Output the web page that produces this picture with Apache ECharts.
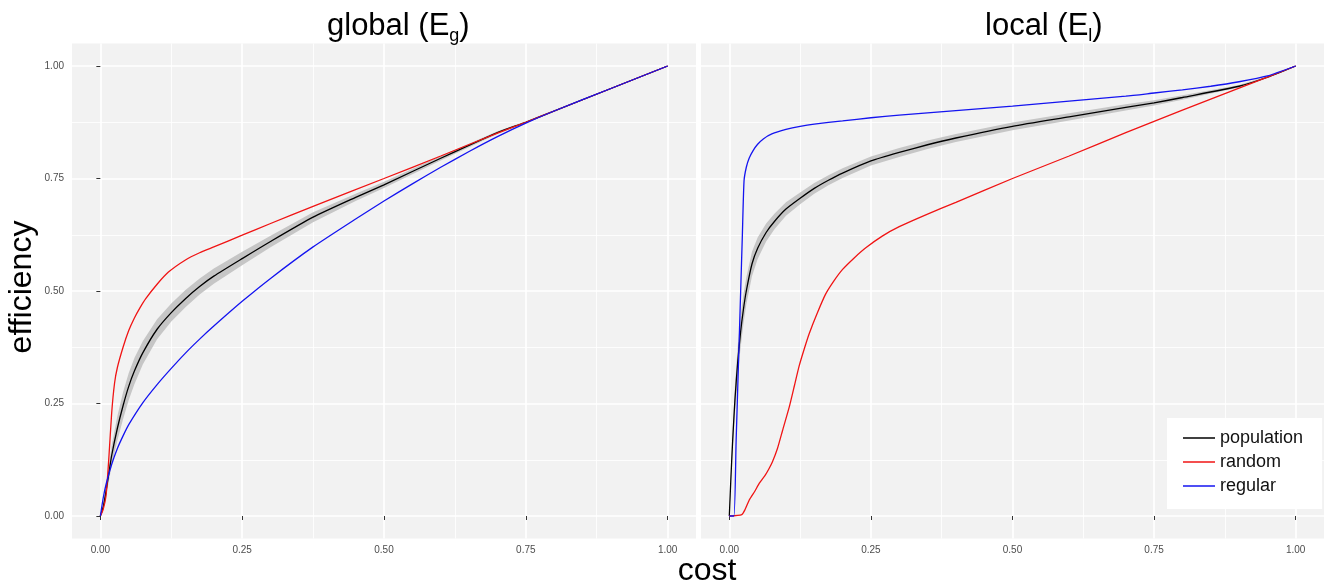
<!DOCTYPE html>
<html>
<head>
<meta charset="utf-8">
<title>efficiency vs cost</title>
<script src="https://cdn.jsdelivr.net/npm/echarts@6/dist/echarts.min.js"></script>
<style>
  html, body { margin: 0; padding: 0; background: #fff; }
  #chart { width: 1324px; height: 588px; }
</style>
</head>
<body>
<div id="chart"></div>
<script>
// ---- data ----
const tickValues = [0, 0.25, 0.5, 0.75, 1];
const minorValues = [0.125, 0.375, 0.625, 0.875];
const seriesNames = ["population", "random", "regular"];

// global (Eg) panel
const globalPopulation = [[0,0],[0.005,0.02],[0.01,0.055],[0.015,0.095],[0.02,0.135],[0.03,0.195],[0.04,0.245],[0.05,0.288],[0.06,0.322],[0.075,0.363],[0.1,0.415],[0.125,0.452],[0.15,0.483],[0.175,0.51],[0.2,0.533],[0.25,0.572],[0.3,0.61],[0.375,0.664],[0.45,0.708],[0.5,0.736],[0.6,0.795],[0.7,0.852],[0.75,0.875],[0.8,0.9],[0.9,0.95],[1,1]];
const globalSpread = [0,0.005,0.012,0.018,0.022,0.027,0.03,0.03,0.029,0.026,0.022,0.02,0.019,0.018,0.017,0.015,0.013,0.011,0.008,0.007,0.005,0.003,0.002,0.002,0.001,0];
const globalRandom = [[0,0],[0.005,0.015],[0.01,0.045],[0.015,0.13],[0.02,0.23],[0.025,0.295],[0.03,0.33],[0.04,0.375],[0.05,0.412],[0.06,0.44],[0.07,0.463],[0.08,0.483],[0.1,0.515],[0.12,0.542],[0.15,0.569],[0.175,0.585],[0.2,0.598],[0.25,0.624],[0.3,0.65],[0.375,0.688],[0.5,0.75],[0.6,0.8],[0.7,0.851],[0.75,0.875],[0.8,0.9],[0.9,0.95],[1,1]];
const globalRegular = [[0,0],[0.005,0.04],[0.01,0.07],[0.02,0.115],[0.03,0.15],[0.04,0.178],[0.05,0.203],[0.075,0.252],[0.1,0.292],[0.125,0.328],[0.15,0.362],[0.175,0.393],[0.2,0.422],[0.25,0.477],[0.3,0.528],[0.375,0.598],[0.45,0.66],[0.5,0.7],[0.55,0.738],[0.6,0.775],[0.65,0.81],[0.7,0.843],[0.75,0.873],[0.8,0.9],[0.9,0.95],[1,1]];

// local (El) panel
const localPopulation = [[0,0],[0.003,0.09],[0.006,0.17],[0.01,0.26],[0.015,0.345],[0.02,0.41],[0.025,0.46],[0.03,0.5],[0.04,0.56],[0.05,0.595],[0.065,0.63],[0.08,0.655],[0.1,0.682],[0.125,0.706],[0.15,0.728],[0.175,0.746],[0.2,0.762],[0.25,0.789],[0.3,0.808],[0.35,0.825],[0.4,0.84],[0.5,0.866],[0.6,0.887],[0.7,0.908],[0.75,0.918],[0.8,0.93],[0.9,0.955],[0.95,0.975],[1,1]];
const localSpread = [0,0.01,0.02,0.03,0.035,0.035,0.033,0.03,0.027,0.024,0.02,0.017,0.015,0.013,0.012,0.011,0.011,0.01,0.01,0.0095,0.009,0.0085,0.008,0.007,0.006,0.005,0.003,0.002,0];
const localRandom = [[0,0],[0.022,0.003],[0.028,0.015],[0.035,0.035],[0.045,0.055],[0.053,0.073],[0.064,0.092],[0.07,0.105],[0.076,0.12],[0.085,0.15],[0.094,0.19],[0.106,0.243],[0.115,0.29],[0.123,0.332],[0.132,0.37],[0.141,0.405],[0.155,0.45],[0.17,0.493],[0.185,0.523],[0.2,0.548],[0.22,0.573],[0.241,0.596],[0.27,0.622],[0.3,0.643],[0.35,0.671],[0.4,0.697],[0.5,0.75],[0.6,0.8],[0.7,0.852],[0.8,0.902],[0.9,0.951],[1,1]];
const localRegular = [[0,0],[0.008,0],[0.012,0.166],[0.016,0.332],[0.02,0.498],[0.023,0.623],[0.026,0.745],[0.03,0.775],[0.035,0.795],[0.042,0.812],[0.05,0.826],[0.06,0.838],[0.075,0.849],[0.1,0.859],[0.125,0.866],[0.15,0.871],[0.2,0.878],[0.25,0.885],[0.3,0.891],[0.4,0.901],[0.5,0.911],[0.6,0.922],[0.7,0.933],[0.75,0.94],[0.8,0.947],[0.85,0.955],[0.9,0.965],[0.95,0.978],[1,1]];

const FONT = "'Liberation Sans', Arial, Helvetica, sans-serif";
const colors = { population: "#000000", random: "#f01414", regular: "#1414f0" };

const chart = echarts.init(document.getElementById("chart"));

function majorX(grid) {
  return {
    type: "value", gridIndex: grid, min: -0.05, max: 1.05,
    axisLine: { show: false },
    axisTick: { show: true, length: 4, lineStyle: { color: "#333" }, customValues: tickValues },
    axisLabel: { customValues: tickValues, formatter: v => v.toFixed(2), fontSize: 10, color: "#4d4d4d", margin: 7, fontFamily: FONT },
    splitLine: { show: true, lineStyle: { color: "#fff", width: 1.6 } }
  };
}
function majorY(grid, labels) {
  return {
    type: "value", gridIndex: grid, min: -0.05, max: 1.05,
    axisLine: { show: false },
    axisTick: { show: labels, length: 4, lineStyle: { color: "#333" }, customValues: tickValues },
    axisLabel: { show: labels, customValues: tickValues, formatter: v => v.toFixed(2), fontSize: 10, color: "#4d4d4d", margin: 8, fontFamily: FONT },
    splitLine: { show: true, lineStyle: { color: "#fff", width: 1.6 } }
  };
}
function minorAxis(grid) {
  return {
    type: "value", gridIndex: grid, min: -0.05, max: 1.05,
    axisLine: { show: false },
    axisTick: { show: false, customValues: minorValues },
    axisLabel: { show: false },
    splitLine: { show: true, lineStyle: { color: "#fff", width: 0.8 } }
  };
}

function ribbon(idx, line, spread) {
  return {
    type: "custom", xAxisIndex: idx, yAxisIndex: idx, data: [[0, 0]], silent: true, z: 1,
    renderItem: function (params, api) {
      const upper = line.map((p, i) => api.coord([p[0], p[1] + spread[i]]));
      const lower = line.map((p, i) => api.coord([p[0], p[1] - spread[i]])).reverse();
      return { type: "polygon", shape: { points: upper.concat(lower) }, style: { fill: "#c6c6c6" } };
    }
  };
}

function lineSeries(name, data, idx) {
  return {
    name: name, type: "line", xAxisIndex: idx, yAxisIndex: idx, data: data,
    symbol: "none", smooth: 0.2, z: 3,
    lineStyle: { color: colors[name], width: 1.3 }, itemStyle: { color: colors[name] }
  };
}

const richTitle = {
  a: { fontSize: 31, fontWeight: "normal", fontFamily: FONT, color: "#000" },
  s: { fontSize: 18, fontWeight: "normal", fontFamily: FONT, color: "#000", padding: [19, 0, 0, 0] }
};

chart.setOption({
  animation: false,
  backgroundColor: "#fff",
  title: [
    { text: "{a|global (E}{s|g}{a|)}", left: 327, top: 8, padding: 0, textStyle: { fontWeight: "normal", rich: richTitle } },
    { text: "{a|local (E}{s|l}{a|)}", left: 985, top: 8, padding: 0, textStyle: { fontWeight: "normal", rich: richTitle } }
  ],
  grid: [
    { left: 72, top: 43.5, width: 624, height: 495, show: true, backgroundColor: "#f2f2f2", borderWidth: 0, containLabel: false, outerBoundsMode: "none" },
    { left: 701, top: 43.5, width: 623, height: 495, show: true, backgroundColor: "#f2f2f2", borderWidth: 0, containLabel: false, outerBoundsMode: "none" }
  ],
  xAxis: [majorX(0), majorX(1), minorAxis(0), minorAxis(1)],
  yAxis: [majorY(0, true), majorY(1, false), minorAxis(0), minorAxis(1)],
  legend: {
    data: seriesNames, orient: "vertical", left: 1167, top: 418,
    backgroundColor: "#fff", padding: [11, 19, 14, 16],
    icon: "rect", itemWidth: 32, itemHeight: 1.5, itemGap: 6,
    textStyle: { fontSize: 18, color: "#111", fontFamily: FONT }
  },
  graphic: [
    { type: "text", x: 22, y: 287, rotation: Math.PI / 2,
      style: { text: "efficiency", fontSize: 32, fontFamily: FONT, fill: "#000", align: "center", verticalAlign: "middle" } },
    { type: "text", x: 707, y: 571,
      style: { text: "cost", fontSize: 32, fontFamily: FONT, fill: "#000", align: "center", verticalAlign: "middle" } }
  ],
  series: [
    ribbon(0, globalPopulation, globalSpread),
    lineSeries("population", globalPopulation, 0),
    lineSeries("random", globalRandom, 0),
    lineSeries("regular", globalRegular, 0),
    ribbon(1, localPopulation, localSpread),
    lineSeries("population", localPopulation, 1),
    lineSeries("random", localRandom, 1),
    lineSeries("regular", localRegular, 1)
  ]
});
</script>
</body>
</html>
